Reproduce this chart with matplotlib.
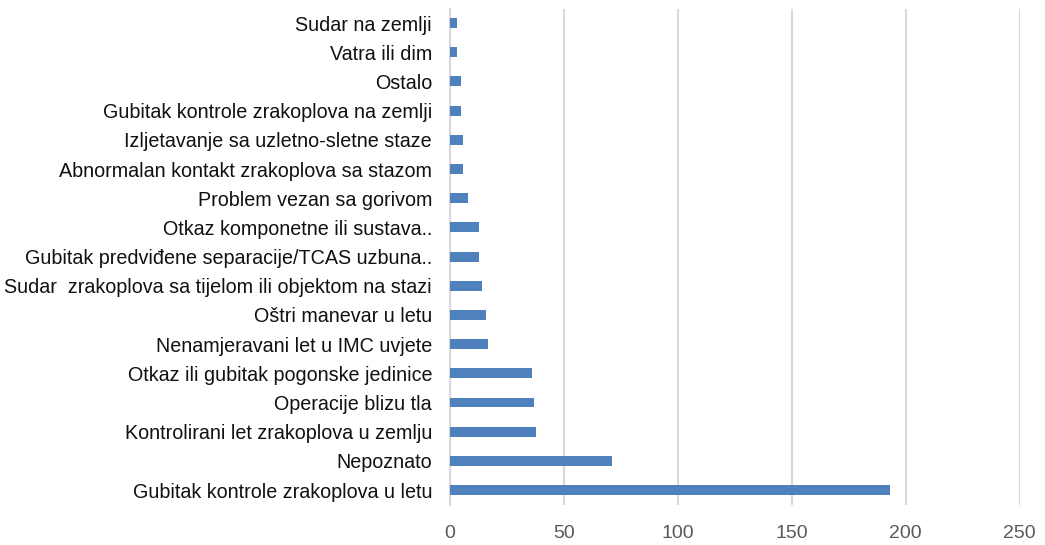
import matplotlib.pyplot as plt

categories = [
    'Gubitak kontrole zrakoplova u letu',
    'Nepoznato',
    'Kontrolirani let zrakoplova u zemlju',
    'Operacije blizu tla',
    'Otkaz ili gubitak pogonske jedinice',
    'Nenamjeravani let u IMC uvjete',
    'Oštri manevar u letu',
    'Sudar  zrakoplova sa tijelom ili objektom na stazi',
    'Gubitak predviđene separacije/TCAS uzbuna..',
    'Otkaz komponetne ili sustava..',
    'Problem vezan sa gorivom',
    'Abnormalan kontakt zrakoplova sa stazom',
    'Izljetavanje sa uzletno-sletne staze',
    'Gubitak kontrole zrakoplova na zemlji',
    'Ostalo',
    'Vatra ili dim',
    'Sudar na zemlji',
]
values = [193, 71, 38, 37, 36, 17, 16, 14, 13, 13, 8, 6, 6, 5, 5, 3, 3]
xticks = [0, 50, 100, 150, 200, 250]

plt.rcParams['font.family'] = ['Liberation Sans', 'DejaVu Sans']

fig = plt.figure(figsize=(10.45, 5.45), dpi=100)
ax = fig.add_axes([0.4303, 0.0741, 0.5455, 0.9103])

pos = list(range(len(categories)))
ax.barh(pos, values, height=0.34, color='#4F81BD', zorder=3)

ax.set_xlim(0, 250)
ax.set_ylim(-0.5, len(categories) - 0.5)
ax.set_xticks(xticks)
ax.set_xticklabels([str(t) for t in xticks], fontsize=14, color='#595959')
ax.set_yticks(pos)
ax.set_yticklabels(categories, fontsize=14.2, color='#111111')

ax.grid(axis='x', color='#d9d9d9', linewidth=1.5, zorder=0)
for s in ['top', 'right', 'bottom']:
    ax.spines[s].set_visible(False)
ax.spines['left'].set_color('#d9d9d9')
ax.spines['left'].set_linewidth(1.5)
ax.tick_params(axis='x', length=0, pad=15)
ax.tick_params(axis='y', length=0, pad=12.7)

fig.savefig('out.png', dpi=100)
